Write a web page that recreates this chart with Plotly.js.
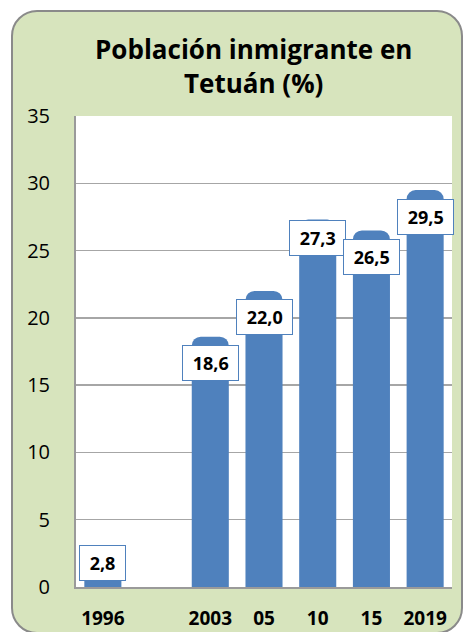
<!DOCTYPE html>
<html>
<head>
<meta charset="utf-8">
<script src="https://cdn.plot.ly/plotly-3.0.1.min.js"></script>
<style>
  html, body { margin: 0; padding: 0; background: #ffffff; }
  #frame {
    position: absolute; left: 11px; top: 10px; width: 452px; height: 624px;
    box-sizing: border-box; border: 2px solid #8a8a8a; border-radius: 26px;
    background: #d7e4bd;
  }
  #chart { position: absolute; left: 0; top: 0; width: 463px; height: 632px; }
</style>
</head>
<body>
<div id="frame"></div>
<div id="chart"></div>
<script>
// Data
const years = ['1996', '2003', '05', '10', '15', '2019'];
const slots = [0, 2, 3, 4, 5, 6];          // category slot (one empty slot after 1996)
const values = [2.8, 18.6, 22.0, 27.3, 26.5, 29.5];
const labels = ['2,8', '18,6', '22,0', '27,3', '26,5', '29,5'];
const yTicks = [0, 5, 10, 15, 20, 25, 30, 35];

// Label placement (style only)
const labelShift = [-14, -26, -26, -18, -27, -27];

const blue = '#4f81bd';

const trace = {
  type: 'bar',
  x: slots,
  y: values,
  marker: { color: blue, cornerradius: 9 },
  width: 0.69,
  hoverinfo: 'skip'
};

const annotations = values.map((v, i) => ({
  x: slots[i], y: v, xref: 'x', yref: 'y',
  text: '&nbsp;<b>' + labels[i] + '</b>&nbsp;',
  showarrow: false,
  yanchor: 'middle', xanchor: 'center',
  yshift: labelShift[i],
  bgcolor: '#ffffff',
  bordercolor: blue, borderwidth: 1, borderpad: 5,
  font: { family: '"Open Sans", sans-serif', size: 18, color: '#000000' }
}));

const layout = {
  width: 463, height: 632,
  margin: { l: 76, r: 11, t: 116, b: 45, pad: 0 },
  paper_bgcolor: 'rgba(0,0,0,0)',
  plot_bgcolor: '#ffffff',
  showlegend: false,
  title: {
    text: '<b>Población inmigrante en<br>Tetuán (%)</b>',
    font: { family: '"Open Sans", sans-serif', size: 26, color: '#000000' },
    x: 0.548, xanchor: 'center', xref: 'container',
    y: 0.907, yanchor: 'middle', yref: 'container'
  },
  xaxis: {
    range: [-0.5, 6.5],
    tickmode: 'array', tickvals: slots, ticktext: years.map(t => '<b>' + t + '</b>'),
    tickfont: { family: '"Open Sans", sans-serif', size: 19, color: '#000000' },
    ticks: '', showgrid: false, zeroline: false,
    showline: true, linecolor: '#9a9a9a', linewidth: 2,
    ticklabelstandoff: 13, fixedrange: true
  },
  yaxis: {
    range: [0, 35],
    tickmode: 'array', tickvals: yTicks,
    tickfont: { family: '"Open Sans", sans-serif', size: 20, color: '#000000' },
    ticks: '', showgrid: true, gridcolor: '#a6a6a6', gridwidth: 1.5,
    zeroline: false, showline: true, linecolor: '#9a9a9a', linewidth: 2,
    ticklabelstandoff: 20, fixedrange: true
  },
  annotations: annotations
};

Plotly.newPlot('chart', [trace], layout, { displayModeBar: false, staticPlot: true });
</script>
</body>
</html>
